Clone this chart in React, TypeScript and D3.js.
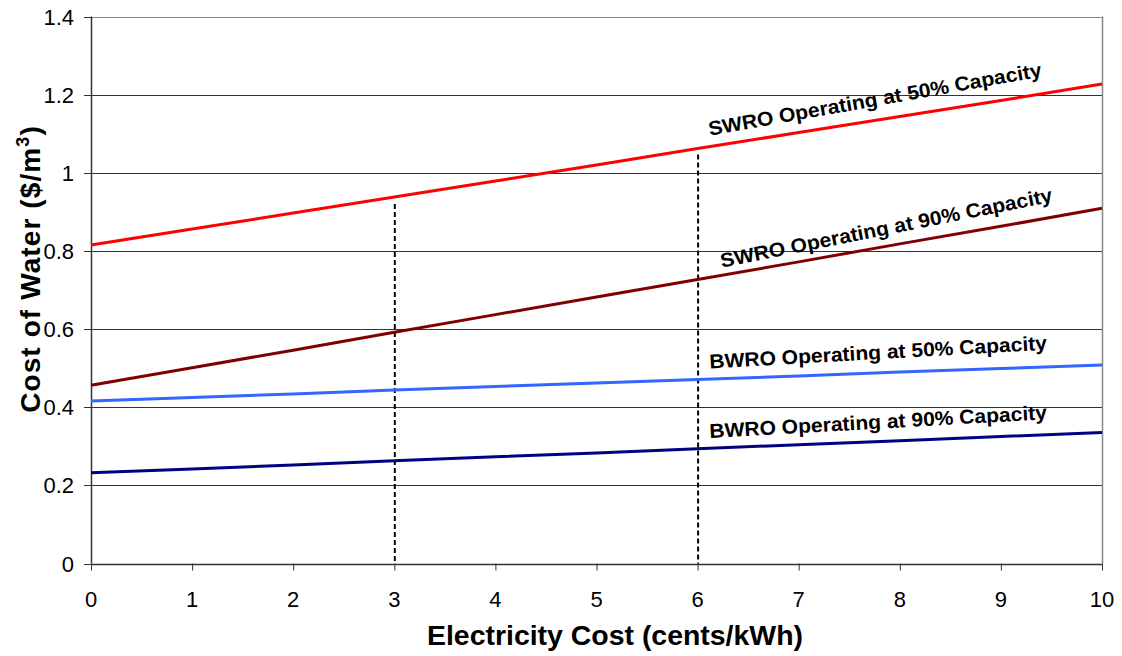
import React from "react";
import * as d3 from "d3";

// Electricity cost (cents/kWh)
const electricityCost = [0, 1, 2, 3, 4, 5, 6, 7, 8, 9, 10];

// Cost of water ($/m3) for each operating case
const swro50 = [0.815, 0.856, 0.897, 0.938, 0.979, 1.02, 1.062, 1.103, 1.144, 1.185, 1.227];
const swro90 = [0.456, 0.501, 0.546, 0.592, 0.637, 0.682, 0.727, 0.772, 0.818, 0.863, 0.909];
const bwro50 = [0.416, 0.425, 0.434, 0.444, 0.453, 0.462, 0.471, 0.48, 0.49, 0.499, 0.508];
const bwro90 = [0.232, 0.242, 0.252, 0.263, 0.273, 0.283, 0.294, 0.304, 0.314, 0.325, 0.335];

const seriesNames = [
  "SWRO Operating at 50% Capacity",
  "SWRO Operating at 90% Capacity",
  "BWRO Operating at 50% Capacity",
  "BWRO Operating at 90% Capacity",
];
const seriesColors = ["#ff0000", "#800000", "#3366ff", "#000080"];

const yTicks = [0, 0.2, 0.4, 0.6, 0.8, 1, 1.2, 1.4];
const xTicks = [0, 1, 2, 3, 4, 5, 6, 7, 8, 9, 10];

// Reference markers: vertical dashed lines at 3 and 6 cents/kWh
const markerX = [3, 6];
const markerTop = [0.92, 1.047];

// Label placement: start x (cents/kWh), baseline value and rotation (deg)
const labelX = [6.12, 6.24, 6.12, 6.12];
const labelY = [1.095, 0.757, 0.499, 0.321];
const labelAngle = [-10.1, -11.3, -3.2, -3.2];

export default function App() {
  const left = 91;
  const right = 1102;
  const top = 16.5;
  const bottom = 563.5;

  const x = d3.scaleLinear().domain([0, 10]).range([left, right]);
  const y = d3.scaleLinear().domain([0, 1.4]).range([bottom, top]);

  const series = [swro50, swro90, bwro50, bwro90];
  const line = d3
    .line<number>()
    .x((_, i) => x(electricityCost[i]))
    .y((d) => y(d));

  const font = "Arial, 'Liberation Sans', Helvetica, sans-serif";

  return (
    <svg width={1122} height={656} style={{ position: "absolute", left: 0, top: 0, background: "#fff" }}>
      <rect x={0} y={0} width={1122} height={656} fill="#fff" />
      {/* horizontal gridlines */}
      {yTicks.map((t) => (
        <line
          key={"g" + t}
          x1={left}
          x2={right}
          y1={Math.round(y(t)) + 0.5}
          y2={Math.round(y(t)) + 0.5}
          stroke={t === 1.4 ? "#888" : "#333"}
          strokeWidth={1}
        />
      ))}
      {/* right border */}
      <line x1={right + 0.5} x2={right + 0.5} y1={top} y2={bottom} stroke="#888" strokeWidth={1.5} />
      {/* y axis */}
      <line x1={left + 0.5} x2={left + 0.5} y1={top} y2={bottom} stroke="#333" strokeWidth={1.5} />
      {yTicks.map((t) => (
        <g key={"yt" + t}>
          <line x1={left - 7} x2={left} y1={Math.round(y(t)) + 0.5} y2={Math.round(y(t)) + 0.5} stroke="#333" strokeWidth={1} />
          <text x={left - 17} y={y(t) + 8} textAnchor="end" fontFamily={font} fontSize={22} fill="#000">
            {d3.format("~g")(t)}
          </text>
        </g>
      ))}
      {/* x axis */}
      <line x1={left} x2={right} y1={Math.round(bottom) + 0.5} y2={Math.round(bottom) + 0.5} stroke="#333" strokeWidth={1.5} />
      {xTicks.map((t) => (
        <g key={"xt" + t}>
          <line x1={x(t) + 0.5} x2={x(t) + 0.5} y1={bottom} y2={bottom + 7} stroke="#333" strokeWidth={1} />
          <text x={x(t)} y={bottom + 43} textAnchor="middle" fontFamily={font} fontSize={22} fill="#000">
            {t}
          </text>
        </g>
      ))}
      {/* dashed marker lines */}
      {markerX.map((m, i) => (
        <line
          key={"m" + m}
          x1={x(m) + 0.5}
          x2={x(m) + 0.5}
          y1={y(markerTop[i])}
          y2={bottom}
          stroke="#000"
          strokeWidth={2}
          strokeDasharray="5,3"
        />
      ))}
      {/* series lines */}
      {series.map((s, i) => (
        <path key={"s" + i} d={line(s) || ""} fill="none" stroke={seriesColors[i]} strokeWidth={3} />
      ))}
      {/* series labels */}
      {seriesNames.map((n, i) => (
        <text
          key={"l" + i}
          transform={`translate(${x(labelX[i])},${y(labelY[i])}) rotate(${labelAngle[i]})`}
          fontFamily={font}
          fontSize={20}
          fontWeight="bold"
          fill="#000"
          textLength={338}
          lengthAdjust="spacingAndGlyphs"
        >
          {n}
        </text>
      ))}
      {/* axis titles */}
      <text
        x={615}
        y={645}
        textAnchor="middle"
        fontFamily={font}
        fontSize={28}
        fontWeight="bold"
        fill="#000"
        textLength={376}
        lengthAdjust="spacingAndGlyphs"
      >
        Electricity Cost (cents/kWh)
      </text>
      <text
        transform="translate(40,269) rotate(-90)"
        textAnchor="middle"
        fontFamily={font}
        fontSize={28}
        fontWeight="bold"
        letterSpacing={1.1}
        fill="#000"
      >
        Cost of Water ($/m<tspan dy={-11} fontSize={18}>3</tspan>
        <tspan dy={11}>)</tspan>
      </text>
    </svg>
  );
}
